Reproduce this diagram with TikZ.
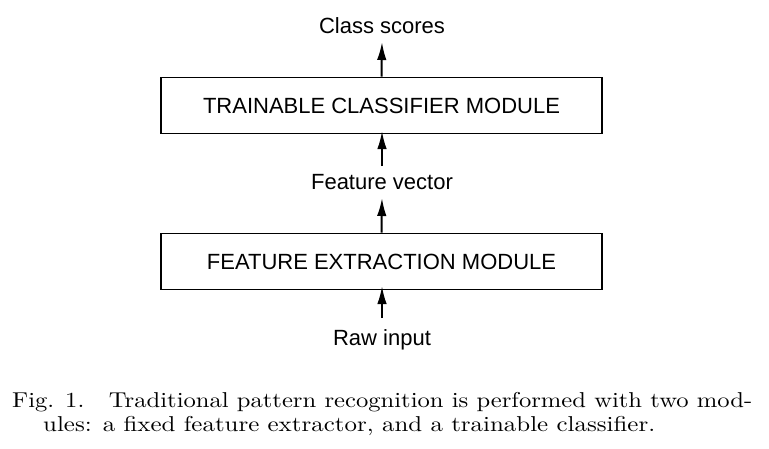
\documentclass[tikz,border=0pt]{standalone}
\usepackage{fontspec}
\usepackage{graphicx}
\newfontfamily\diagfont{Liberation Sans}
\newfontfamily\capfont{lmroman10-regular}[Extension=.otf]
\usetikzlibrary{arrows.meta}
\begin{document}
\begin{tikzpicture}[x=1pt,y=-1pt,
  module/.style={draw,line width=1.9pt,minimum width=441pt,minimum height=56pt,inner sep=0pt,font=\diagfont\fontsize{22}{26}\selectfont},
  lbl/.style={inner sep=0pt,font=\diagfont\fontsize{22}{26}\selectfont},
  flow/.style={line width=2pt,-{Latex[length=18pt,width=9.5pt]}},
  captext/.style={inner sep=0pt,anchor=base west,font=\capfont\fontsize{21.5}{26}\selectfont}]
\useasboundingbox (0,0) rectangle (769,448);
\node[module] (tcm) at (381.5,105.5) {TRAINABLE CLASSIFIER MODULE};
\node[module] (fem) at (381.5,261.5) {FEATURE EXTRACTION MODULE};
\node[lbl] (cs) at (382,25.5) {Class scores};
\node[lbl] (fv) at (382,182.5) {Feature vector};
\node[lbl] (ri) at (382,340) {Raw input};
\coordinate (csb) at (382,42);
\coordinate (fvt) at (382,166);
\coordinate (fvb) at (382,198);
\coordinate (rit) at (382,318);
\coordinate (tcmin) at (382,131);
\coordinate (femin) at (382,286);
\draw[flow] (tcm.north) -- (csb);
\draw[flow] (fvt) -- (tcmin);
\draw[flow] (fem.north) -- (fvb);
\draw[flow] (rit) -- (femin);
\node[captext] (cap1) at (12,407) {\resizebox{740pt}{\height}{Fig. 1.\ \ \ Traditional pattern recognition is performed with two mod-}};
\node[captext] (cap2) at (43,431) {\resizebox{612pt}{\height}{ules: a fixed feature extractor, and a trainable classifier.}};
\end{tikzpicture}
\end{document}
